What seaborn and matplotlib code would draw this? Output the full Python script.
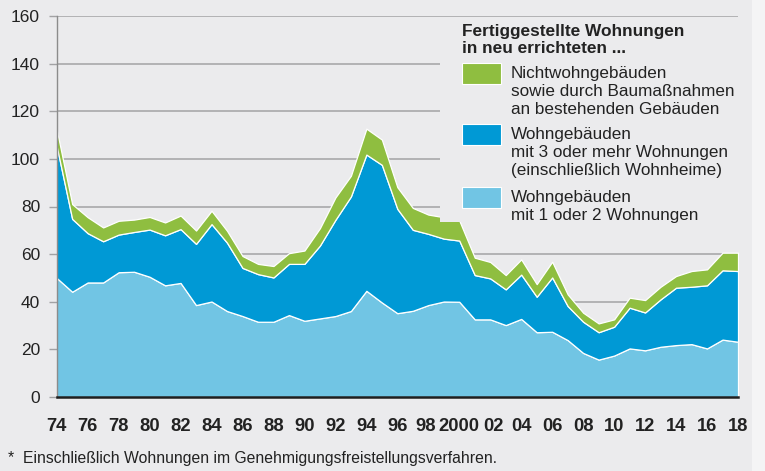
import matplotlib
matplotlib.use("Agg")
import matplotlib.pyplot as plt
import matplotlib.patches as mpatches
import matplotlib.transforms as mtransforms
import numpy as np
import pandas as pd
import seaborn as sns

# ── Daten (in 1000 Wohnungen) ─────────────────────────────────────────────
jahre = list(range(1974, 2019))

ein_zwei = [50.0, 44.2, 48.1, 48.1, 52.4, 52.6, 50.5, 46.9, 47.9, 38.6,
            40.1, 36.1, 34.0, 31.6, 31.6, 34.4, 32.0, 33.0, 34.0, 36.1,
            44.6, 39.7, 35.2, 36.2, 38.6, 40.1, 40.0, 32.6, 32.6, 30.2,
            32.8, 27.2, 27.4, 23.9, 18.5, 15.7, 17.4, 20.4, 19.6, 21.1,
            21.8, 22.2, 20.4, 24.1, 23.2]

drei_mehr = [55.3, 30.6, 20.7, 17.3, 15.8, 16.7, 19.8, 21.0, 22.6, 25.7,
             32.5, 28.7, 20.2, 20.0, 18.6, 21.5, 23.9, 30.6, 40.4, 48.1,
             57.2, 57.8, 43.8, 34.0, 29.9, 26.4, 25.7, 18.6, 17.2, 15.0,
             18.6, 14.9, 22.8, 14.3, 13.1, 11.5, 12.1, 17.1, 15.9, 19.9,
             24.1, 24.1, 26.5, 29.1, 29.7]

nichtwohn = [7.0, 6.2, 6.7, 5.8, 5.8, 5.2, 5.3, 5.4, 5.7, 5.6,
             5.6, 5.0, 5.0, 4.3, 4.8, 4.5, 5.6, 7.3, 9.4, 8.7,
             10.9, 10.6, 9.1, 9.2, 8.1, 9.0, 8.4, 7.3, 6.9, 6.0,
             6.4, 5.3, 6.6, 4.9, 3.8, 3.7, 3.1, 4.2, 5.2, 5.3,
             4.9, 6.6, 6.7, 7.4, 7.7]

x_ticks = list(range(1974, 2019, 2))
x_labels = [("2000" if j == 2000 else f"{j % 100:02d}") for j in x_ticks]

legende_titel = "Fertiggestellte Wohnungen\nin neu errichteten ..."
legende = [
    ("Nichtwohngebäuden\nsowie durch Baumaßnahmen\nan bestehenden Gebäuden", "#8FBE40"),
    ("Wohngebäuden\nmit 3 oder mehr Wohnungen\n(einschließlich Wohnheime)", "#0099D5"),
    ("Wohngebäuden\nmit 1 oder 2 Wohnungen", "#71C5E4"),
]
fussnote = "*  Einschließlich Wohnungen im Genehmigungsfreistellungsverfahren."

df = pd.DataFrame({"jahr": jahre, "ein_zwei": ein_zwei,
                   "drei_mehr": drei_mehr, "nichtwohn": nichtwohn})

# ── Stil ──────────────────────────────────────────────────────────────────
BG = "#EBEBED"
sns.set_theme(style="white", rc={"axes.facecolor": BG, "figure.facecolor": BG})
plt.rcParams["font.family"] = ["Liberation Sans", "DejaVu Sans"]

W, H = 765, 471
fig = plt.figure(figsize=(W / 100, H / 100), dpi=100)
ax = fig.add_axes([56.7 / W, 1 - 397 / H, (738 - 56.7) / W, (397 - 16) / H])


def fx(x):
    return x / W


def fy(y):
    return 1 - y / H


# heller Rand rechts
fig.patches.append(mpatches.Rectangle((fx(752), 0), fx(W - 752), 1,
                                      transform=fig.transFigure,
                                      facecolor="#F4F4F5", edgecolor="none", zorder=0))

farben = sns.color_palette([legende[2][1], legende[1][1], legende[0][1]])
ax.stackplot(df["jahr"], df["ein_zwei"], df["drei_mehr"], df["nichtwohn"],
             colors=farben, edgecolor="white", linewidth=0.9, zorder=2)

ax.set_xlim(1974, 2018)
ax.set_ylim(0, 160)
ax.set_yticks(range(0, 161, 20))
ax.yaxis.grid(True, color="#A2A2A4", linewidth=1.1, zorder=0)
ax.set_axisbelow(True)

ax.set_xticks(x_ticks)
ax.set_xticklabels(x_labels)
ax.set_xticks(range(1975, 2018, 2), minor=True)
ax.tick_params(axis="x", which="major", length=11, width=1, color="#8C8C8C",
               pad=4, labelsize=13.2, labelcolor="#222222")
ax.tick_params(axis="x", which="minor", length=5, width=1, color="#8C8C8C")
ax.tick_params(axis="y", length=6, width=1, color="#A2A2A4", pad=6,
               labelsize=12.5, labelcolor="#222222", left=True)
for lab in ax.get_xticklabels():
    lab.set_fontweight("bold")
    # Beschriftungen um "2000" etwas auseinanderrücken
    if lab.get_text() == "98":
        lab.set_transform(lab.get_transform() +
                          mtransforms.ScaledTranslation(-3 / 100, 0, fig.dpi_scale_trans))
    elif lab.get_text() == "02":
        lab.set_transform(lab.get_transform() +
                          mtransforms.ScaledTranslation(3 / 100, 0, fig.dpi_scale_trans))

for s in ["top", "right"]:
    ax.spines[s].set_visible(False)
ax.spines["left"].set_color("#8C8C8C")
ax.spines["left"].set_linewidth(1)
ax.spines["bottom"].set_color("#1E1E1E")
ax.spines["bottom"].set_linewidth(1.8)
ax.spines["bottom"].set_zorder(3)

# Legende mit eigenem Hintergrund (deckt Gitterlinien ab)
fig.patches.append(mpatches.Rectangle((fx(440), fy(222)), fx(752) - fx(440),
                                      fy(19) - fy(222), transform=fig.transFigure,
                                      facecolor=BG, edgecolor="none", zorder=1))
fig.text(fx(462), fy(24), legende_titel, fontsize=12.4, fontweight="bold",
         color="#222222", va="top", ha="left", linespacing=1.2)

pos_y = [63, 124, 187]
for (text, farbe), y0 in zip(legende, pos_y):
    fig.patches.append(mpatches.Rectangle((fx(462), fy(y0 + 21)), fx(39), 21 / H,
                                          transform=fig.transFigure,
                                          facecolor=farbe, edgecolor="white",
                                          linewidth=0.8, zorder=2))
    fig.text(fx(511), fy(y0 + 3), text, fontsize=12.3, color="#222222",
             va="top", ha="left", linespacing=1.26)

fig.text(fx(8), fy(459), fussnote, fontsize=11.3, color="#222222",
         va="center", ha="left")

fig.savefig("out.png", dpi=100, facecolor=BG)
